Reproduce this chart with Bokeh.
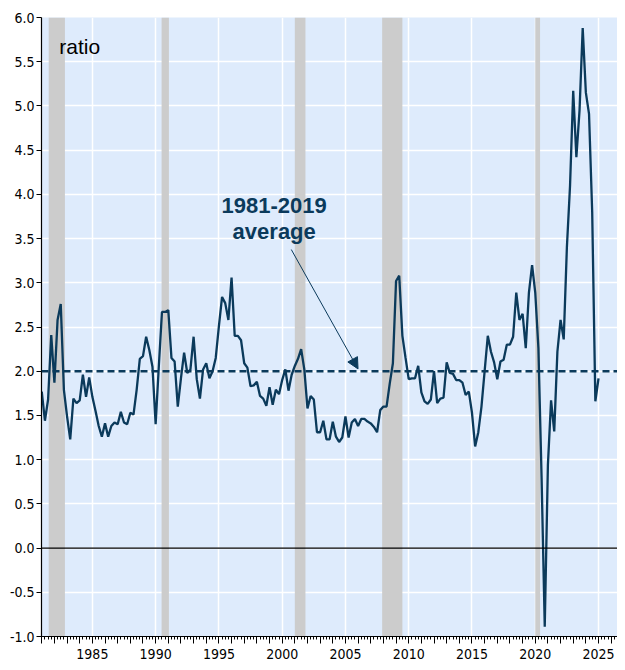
from bokeh.plotting import figure
from bokeh.models import (Range1d, FixedTicker, Span, Arrow, NormalHead, Label,
                          CustomJSTickFormatter, PrintfTickFormatter, ColumnDataSource)
from bokeh.embed import file_html
from bokeh.resources import INLINE

# ---- data (quarterly, starting 1981Q1) ----
start_year = 1981
ratio = [
    1.77, 1.44, 1.68, 2.41,   # 1981
    1.87, 2.58, 2.76, 1.79,   # 1982
    1.49, 1.23, 1.69, 1.64,   # 1983
    1.67, 1.96, 1.71, 1.93,   # 1984
    1.71, 1.55, 1.38, 1.26,   # 1985
    1.41, 1.26, 1.38, 1.42,   # 1986
    1.40, 1.54, 1.42, 1.40,   # 1987
    1.53, 1.51, 1.79, 2.14,   # 1988
    2.17, 2.39, 2.24, 2.05,   # 1989
    1.40, 2.05, 2.67, 2.67,   # 1990
    2.69, 2.15, 2.11, 1.60,   # 1991
    1.92, 2.21, 1.98, 2.02,   # 1992
    2.39, 1.91, 1.69, 2.02,   # 1993
    2.09, 1.92, 2.00, 2.15,   # 1994
    2.51, 2.84, 2.77, 2.58,   # 1995
    3.06, 2.40, 2.40, 2.35,   # 1996
    2.09, 2.04, 1.83, 1.84,   # 1997
    1.88, 1.72, 1.69, 1.61,   # 1998
    1.82, 1.62, 1.79, 1.74,   # 1999
    1.90, 2.02, 1.78, 1.96,   # 2000
    2.06, 2.14, 2.25, 2.02,   # 2001
    1.58, 1.72, 1.68, 1.31,   # 2002
    1.31, 1.44, 1.23, 1.23,   # 2003
    1.43, 1.26, 1.20, 1.25,   # 2004
    1.49, 1.25, 1.42, 1.46,   # 2005
    1.38, 1.46, 1.46, 1.43,   # 2006
    1.41, 1.37, 1.31, 1.56,   # 2007
    1.60, 1.60, 1.86, 2.09,   # 2008
    3.02, 3.08, 2.40, 2.15,   # 2009
    1.91, 1.92, 1.92, 2.06,   # 2010
    1.76, 1.66, 1.63, 1.68,   # 2011
    2.00, 1.64, 1.69, 1.70,   # 2012
    2.10, 1.98, 1.97, 1.90,   # 2013
    1.90, 1.87, 1.73, 1.77,   # 2014
    1.53, 1.15, 1.31, 1.60,   # 2015
    2.00, 2.40, 2.22, 2.10,   # 2016
    1.91, 2.11, 2.13, 2.30,   # 2017
    2.30, 2.39, 2.89, 2.58,   # 2018
    2.65, 2.26, 2.89, 3.20,   # 2019
    2.89, 2.26, 0.80, -0.89,  # 2020
    0.94, 1.67, 1.32, 2.22,   # 2021
    2.58, 2.36, 3.40, 4.10,   # 2022
    5.17, 4.42, 4.95, 5.88,   # 2023
    5.15, 4.91, 3.80, 1.66,   # 2024
    1.92,                     # 2025
]
quarter_dates = [start_year + i / 4 for i in range(len(ratio))]

average_1981_2019 = 2.0

rec_start = [1981.55, 1990.47, 2001.0, 2007.9, 2020.0]
rec_end = [1982.83, 1991.05, 2001.84, 2009.5, 2020.38]

y_ticks = [-1.0, -0.5, 0.0, 0.5, 1.0, 1.5, 2.0, 2.5, 3.0, 3.5, 4.0, 4.5, 5.0, 5.5, 6.0]
x_label_years = [1985, 1990, 1995, 2000, 2005, 2010, 2015, 2020, 2025]
all_years = list(range(1981, 2027))
quarter_ticks = [y + q / 4 for y in range(1981, 2027) for q in range(4)]

NAVY = "#0B3A5B"
BG = "#DEEBFC"
REC = "#CCCCCC"
TICK_FONT = "'Liberation Sans Narrow', 'Arial Narrow', 'DejaVu Sans Condensed', sans-serif"

p = figure(width=617, height=662,
           x_range=Range1d(1980.98, 2026.5), y_range=Range1d(-1.0, 6.0),
           output_backend="svg", toolbar_location=None,
           min_border_left=41, min_border_right=0, min_border_top=17, min_border_bottom=26)
p.background_fill_color = BG
p.border_fill_color = "white"
p.outline_line_color = None

# grids
p.xgrid.ticker = FixedTicker(ticks=x_label_years)
p.ygrid.ticker = FixedTicker(ticks=y_ticks)
p.xgrid.grid_line_color = "white"
p.ygrid.grid_line_color = "white"
p.xgrid.grid_line_width = 1.5
p.ygrid.grid_line_width = 1.5

# recessions
rec_src = ColumnDataSource(dict(left=rec_start, right=rec_end,
                                bottom=[y_ticks[0]] * len(rec_start),
                                top=[y_ticks[-1]] * len(rec_start)))
p.quad(left="left", right="right", bottom="bottom", top="top", source=rec_src,
       fill_color=REC, line_color=None)

# zero line and average line
p.add_layout(Span(location=0, dimension="width", line_color="black", line_width=1.2))
p.add_layout(Span(location=average_1981_2019, dimension="width", line_color=NAVY,
                  line_width=2.6, line_dash="7 4"))

# series
p.line(quarter_dates, ratio, line_color=NAVY, line_width=2.3)

# axes
yax = p.yaxis[0]
yax.ticker = FixedTicker(ticks=y_ticks)
yax.formatter = PrintfTickFormatter(format="%.1f")
yax.major_label_text_font = TICK_FONT
yax.major_label_text_font_size = "14px"
yax.major_label_text_color = "black"
yax.axis_line_color = "black"
yax.axis_line_width = 1.2
yax.major_tick_line_color = "black"
yax.major_tick_in = 0
yax.major_tick_out = 5
yax.minor_tick_line_color = None
yax.major_label_standoff = 2

xax = p.xaxis[0]
xax.ticker = FixedTicker(ticks=all_years, minor_ticks=quarter_ticks)
xax.formatter = CustomJSTickFormatter(code="return (Math.round(tick) % 5 === 0) ? String(Math.round(tick)) : '';")
xax.major_label_text_font = TICK_FONT
xax.major_label_text_font_size = "14px"
xax.major_label_text_color = "black"
xax.axis_line_color = "black"
xax.axis_line_width = 1.2
xax.major_tick_line_color = "black"
xax.minor_tick_line_color = "black"
xax.major_tick_in = 0
xax.major_tick_out = 7
xax.minor_tick_in = 0
xax.minor_tick_out = 3
xax.major_label_standoff = 5

# texts
p.add_layout(Label(x=1982.39, y=5.668, text="ratio", text_font="Liberation Sans",
                   text_font_size="21px", text_color="black", text_baseline="alphabetic"))
p.add_layout(Label(x=1999.37, y=3.873, text="1981-2019", text_font="Liberation Sans",
                   text_font_size="22px", text_font_style="bold", text_color=NAVY,
                   text_align="center", text_baseline="alphabetic"))
p.add_layout(Label(x=1999.37, y=3.583, text="average", text_font="Liberation Sans",
                   text_font_size="22px", text_font_style="bold", text_color=NAVY,
                   text_align="center", text_baseline="alphabetic"))
p.add_layout(Arrow(end=NormalHead(size=11, fill_color=NAVY, line_color=NAVY, line_width=1),
                   x_start=2000.72, y_start=3.376, x_end=2005.995, y_end=2.026,
                   line_color=NAVY, line_width=1))

open("out.html", "w").write(file_html(p, INLINE))
